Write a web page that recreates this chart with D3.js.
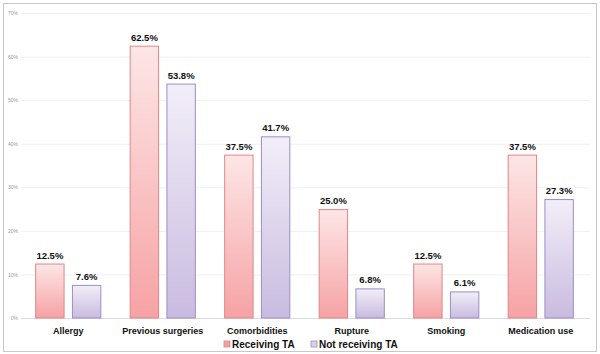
<!DOCTYPE html>
<html>
<head>
<meta charset="utf-8">
<script src="https://cdn.jsdelivr.net/npm/d3@7"></script>
<style>
  body { margin: 0; background: #fff; }
  text { font-family: "Liberation Sans", Arial, sans-serif; }
</style>
</head>
<body>
<svg id="chart" width="600" height="354"></svg>
<script>
// chart data
const categories = ["Allergy", "Previous surgeries", "Comorbidities", "Rupture", "Smoking", "Medication use"];
const seriesNames = ["Receiving TA", "Not receiving TA"];
const receiving = [12.5, 62.5, 37.5, 25.0, 12.5, 37.5];
const notReceiving = [7.6, 53.8, 41.7, 6.8, 6.1, 27.3];
const yTicks = [0, 10, 20, 30, 40, 50, 60, 70];

let svg = d3.select("#chart");

let dims = { left: 21, right: 588, top: 13, bottom: 318 };

// frame
svg.append("rect")
  .attr("x", 3.5).attr("y", 3.5)
  .attr("width", 593).attr("height", 348)
  .attr("fill", "none")
  .attr("stroke", "#c8c8c8");

let defs = svg.append("defs");
let grads = [
  { id: "gRed", top: "#fde6e6", bottom: "#f6a2a4" },
  { id: "gPur", top: "#f2eef8", bottom: "#c9bbe0" },
];
grads.forEach((g) => {
  let lg = defs.append("linearGradient").attr("id", g.id)
    .attr("x1", 0).attr("y1", 0).attr("x2", 0).attr("y2", 1);
  lg.append("stop").attr("offset", "0%").attr("stop-color", g.top);
  lg.append("stop").attr("offset", "100%").attr("stop-color", g.bottom);
});
const fills = ["url(#gRed)", "url(#gPur)"];
const strokes = ["#e08688", "#9d8ec4"];
const swatch = ["#f4a0a3", "#d9d0ea"];

let yScale = d3.scaleLinear().domain([0, 70]).range([dims.bottom, dims.top]);
let xScale = d3.scaleBand().domain(categories).range([dims.left, dims.right])
  .paddingInner(0.3).paddingOuter(0.15);
let xSub = d3.scaleBand().domain([0, 1]).range([0, xScale.bandwidth()]).paddingInner(0.2);

// gridlines + tick labels
let yAxis = d3.axisLeft(yScale).tickValues(yTicks)
  .tickSize(-(590 - dims.left)).tickFormat((d) => d + "%");
svg.append("g")
  .attr("transform", "translate(" + dims.left + ",0)")
  .call(yAxis)
  .call((g) => g.select(".domain").remove())
  .call((g) => g.selectAll("line").attr("stroke", (d) => d === 0 ? "#dcdcdc" : "#f0f0f0"))
  .call((g) => g.selectAll("text").attr("x", -3).attr("fill", "#999")
    .style("font-size", "5px"));

let rows = categories.map((c, i) => ({ cat: c, vals: [receiving[i], notReceiving[i]] }));

let groups = svg.selectAll(".grp").data(rows).enter().append("g")
  .attr("transform", (d) => "translate(" + xScale(d.cat) + ",0)");

groups.selectAll("rect").data((d) => d.vals).enter().append("rect")
  .attr("x", (d, j) => xSub(j) + 0.5)
  .attr("y", (d) => yScale(d) + 0.5)
  .attr("width", xSub.bandwidth() - 1)
  .attr("height", (d) => yScale(0) - yScale(d) - 0.5)
  .attr("fill", (d, j) => fills[j])
  .attr("stroke", (d, j) => strokes[j])
  .attr("stroke-width", 1);

groups.selectAll(".val").data((d) => d.vals).enter().append("text")
  .attr("x", (d, j) => xSub(j) + xSub.bandwidth() / 2)
  .attr("y", (d) => yScale(d) - 5)
  .attr("text-anchor", "middle")
  .style("font-size", "9.5px").style("font-weight", "bold")
  .attr("fill", "#111")
  .text((d) => d.toFixed(1) + "%");

// category labels
svg.selectAll(".cat").data(categories).enter().append("text")
  .attr("x", (d) => xScale(d) + xScale.bandwidth() / 2)
  .attr("y", 334)
  .attr("text-anchor", "middle")
  .style("font-size", "9px").style("font-weight", "bold")
  .attr("fill", "#111")
  .text((d) => d);

// legend
let legend = svg.append("g").attr("transform", "translate(224,348)");
let lx = [0, 87];
seriesNames.forEach((s, i) => {
  legend.append("rect")
    .attr("x", lx[i]).attr("y", -7)
    .attr("width", 6).attr("height", 6)
    .attr("fill", swatch[i]).attr("stroke", strokes[i]).attr("stroke-width", 0.8);
  legend.append("text")
    .attr("x", lx[i] + 8).attr("y", 0)
    .style("font-size", "10px").style("font-weight", "bold")
    .attr("fill", "#111")
    .text(s);
});
</script>
</body>
</html>
